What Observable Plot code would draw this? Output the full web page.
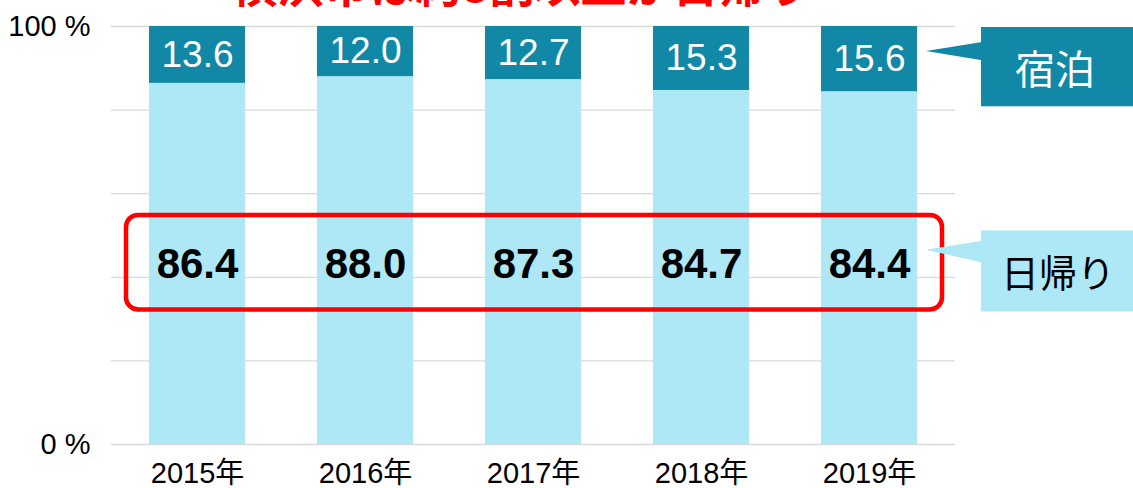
<!DOCTYPE html>
<html>
<head>
<meta charset="utf-8">
<script src="https://cdn.jsdelivr.net/npm/d3@7"></script>
<script src="https://cdn.jsdelivr.net/npm/@observablehq/plot@0.6"></script>
<style>
  html, body { margin: 0; padding: 0; background: #fff; overflow: hidden; }
  #wrap { position: relative; width: 1133px; height: 488px; }
  #title { position: absolute; left: 0; width: 1042px; top: -41px; text-align: center;
    font-family: "Noto Sans CJK JP", sans-serif; font-weight: 700; font-size: 46px; color: #ff0000;
    line-height: 46px; white-space: nowrap; }
  #chart { position: absolute; left: 0; top: 0; }
</style>
</head>
<body>
<div id="wrap">
  <div id="chart"></div>
  <div id="title">横浜市は約8割以上が日帰り</div>
</div>
<script>
const years = ["2015年", "2016年", "2017年", "2018年", "2019年"];
const daytrip = [86.4, 88.0, 87.3, 84.7, 84.4];
const overnight = [13.6, 12.0, 12.7, 15.3, 15.6];
const seriesNames = ["日帰り", "宿泊"];
const seriesColors = ["#AEE8F7", "#1088A6"];
const gridTicks = [0, 20, 40, 60, 80, 100];
const labeledTicks = [0, 100];
const tickLabels = ["0 %", "100 %"];

const daytripLabelY = d3.mean(daytrip) / 2;
const rows = [];
years.forEach((y, i) => {
  rows.push({year: y, series: seriesNames[0], value: daytrip[i], mid: daytripLabelY});
  rows.push({year: y, series: seriesNames[1], value: overnight[i], mid: daytrip[i] + overnight[i] / 2});
});

const font = '"Liberation Sans", Arial, "Noto Sans CJK JP", sans-serif';

const plot = Plot.plot({
  width: 1133,
  height: 488,
  marginTop: 26,
  marginBottom: 44,
  marginLeft: 111,
  marginRight: 178,
  style: {fontFamily: font, background: "#fff"},
  x: {domain: years, paddingInner: 0.43, paddingOuter: 0.215, axis: null},
  y: {domain: [0, 100], axis: null},
  color: {domain: seriesNames, range: seriesColors},
  marks: [
    Plot.ruleY(gridTicks, {stroke: "#d9d9d9", strokeWidth: 1.3}),
    Plot.barY(rows, {x: "year", y: "value", fill: "series"}),
    Plot.text(labeledTicks, {frameAnchor: "left", y: d => d, text: (d, i) => tickLabels[i],
      textAnchor: "end", dx: -21, fontSize: 29, fill: "#000"}),
    Plot.text(years, {x: d => d, frameAnchor: "bottom", text: d => d, lineAnchor: "middle", dy: 29, fontSize: 29, fill: "#000"}),
    Plot.text(rows.filter(d => d.series === seriesNames[0]), {x: "year", y: "mid", text: d => d.value.toFixed(1),
      fontSize: 42, fontWeight: "bold", fill: "#000"}),
    Plot.text(rows.filter(d => d.series === seriesNames[1]), {x: "year", y: "mid", text: d => d.value.toFixed(1),
      fontSize: 37, fill: "#fff"})
  ]
});

document.getElementById("chart").appendChild(plot);

// Annotations positioned from the plot's own scales
const xs = plot.scale("x");
const ys = plot.scale("y");
const xf = v => xs.apply(v);
const yf = v => ys.apply(v);
const bw = xs.bandwidth;
const svg = d3.select(plot);
const firstLeft = xf(years[0]);
const lastRight = xf(years[years.length - 1]) + bw;

// red rounded box around 日帰り values
svg.append("rect")
  .attr("x", firstLeft - 23).attr("y", yf(54.8))
  .attr("width", lastRight + 25 - (firstLeft - 23))
  .attr("height", yf(32.2) - yf(54.8))
  .attr("rx", 12).attr("ry", 12)
  .attr("fill", "none").attr("stroke", "#ff0000").attr("stroke-width", 4.5);

// callouts
function callout(name, color, textColor, size, cx, top, bottom, tipY, baseTop, baseBottom) {
  const left = lastRight + 64;
  const tipX = lastRight + 9;
  const g = svg.append("g");
  g.append("path")
    .attr("d", `M${tipX},${tipY} L${left + 1},${baseTop} L${left + 1},${baseBottom} Z`)
    .attr("fill", color);
  g.append("rect").attr("x", left).attr("y", top).attr("width", 1133 - left + 5).attr("height", bottom - top)
    .attr("fill", color);
  g.append("text").attr("x", left + cx).attr("y", (top + bottom) / 2)
    .attr("text-anchor", "middle").attr("dominant-baseline", "central")
    .attr("font-family", '"Noto Sans CJK JP", sans-serif').attr("font-size", size)
    .attr("fill", textColor).text(name);
}
callout(seriesNames[1], seriesColors[1], "#fff", 40, 74, yf(100) + 1, yf(80.8), yf(94), yf(96.2), yf(91.8));
callout(seriesNames[0], seriesColors[0], "#000", 38, 77, yf(51.1), yf(31.7), yf(46.5), yf(48.6), yf(43.4));
</script>
</body>
</html>
